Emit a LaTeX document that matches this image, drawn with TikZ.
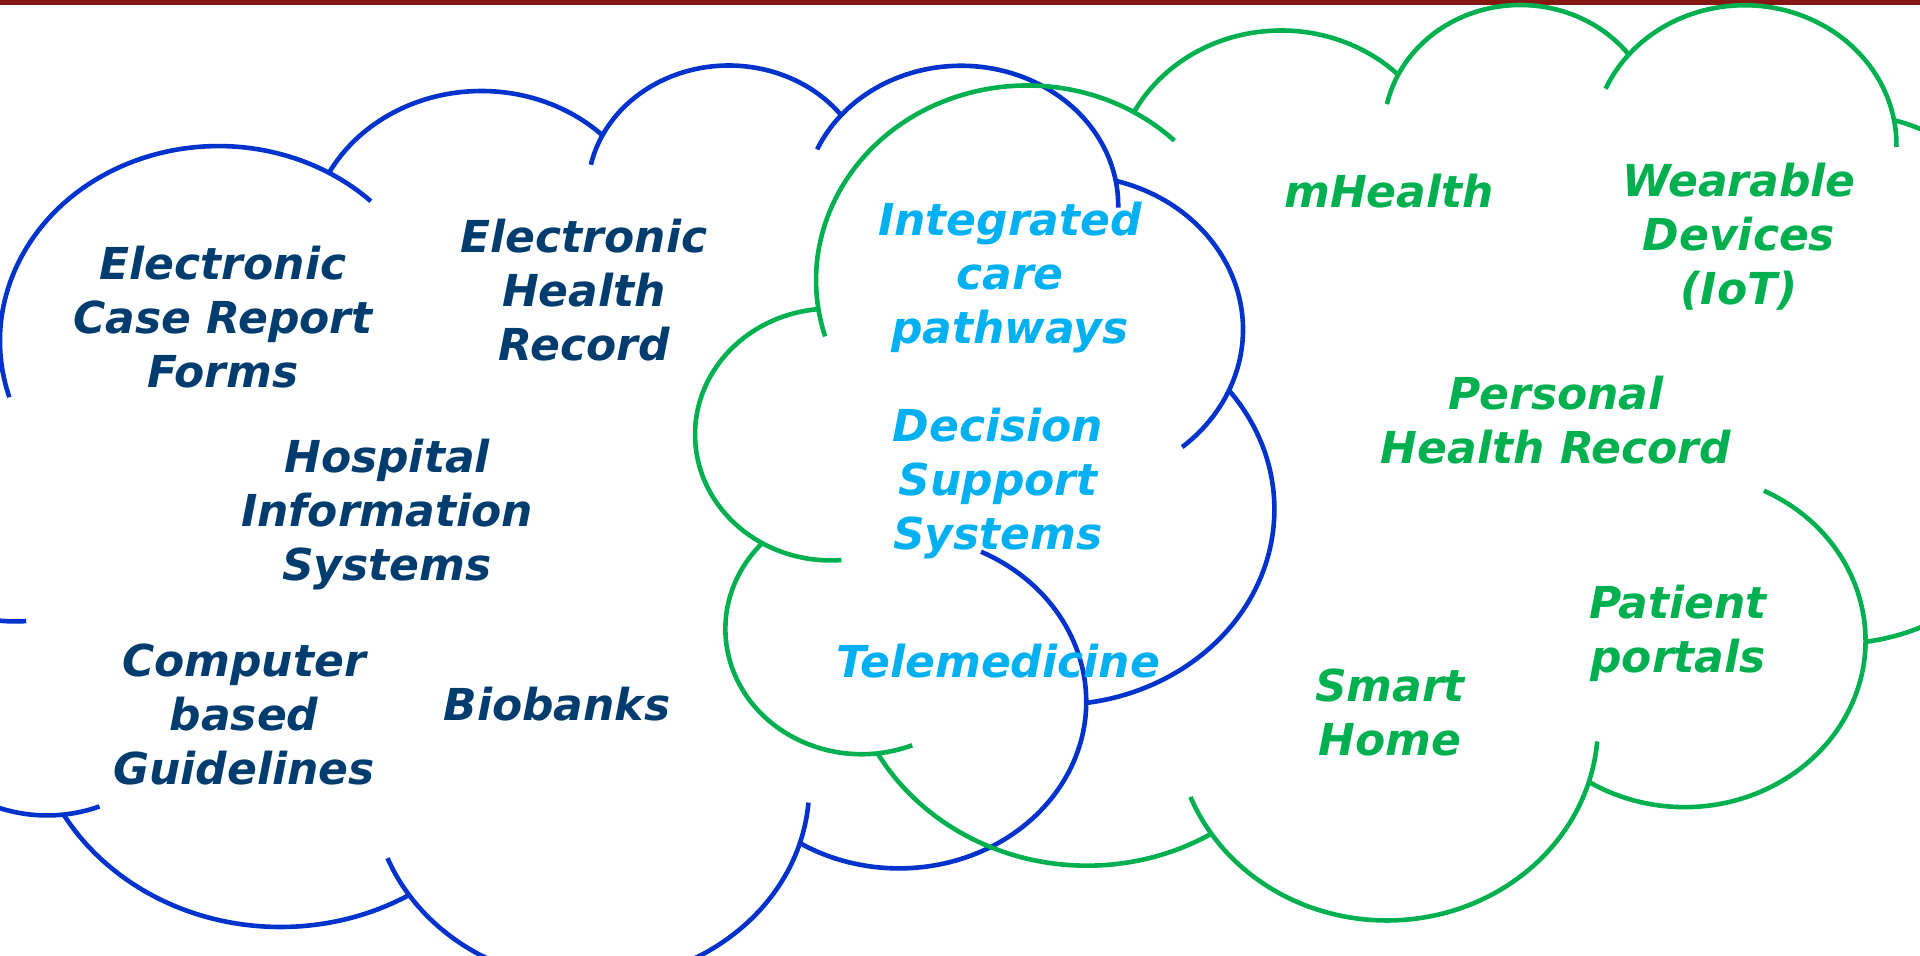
\documentclass[tikz,border=0pt]{standalone}
\usepackage{fontspec}
\setmainfont{DejaVu Sans}
\definecolor{barred}{RGB}{132,23,19}
\definecolor{cloudblue}{RGB}{0,51,204}
\definecolor{cloudgreen}{RGB}{0,176,80}
\definecolor{navytext}{RGB}{0,61,110}
\definecolor{skytext}{RGB}{0,176,240}
\definecolor{greentext}{RGB}{0,176,80}
\newcommand\cloudarc[6]{\draw (#1,#2) ++(#5:#3 and #4) arc[start angle=#5, end angle=#6, x radius=#3, y radius=#4];}
\newcommand\cloudshape{%
  \cloudarc{105.91}{131.31}{67.53}{91.90}{163.19}{314.21}
  \cloudarc{187.15}{86.11}{53.33}{72.67}{-152.02}{-45.44}
  \cloudarc{263.63}{60.87}{43.65}{59.45}{-167.72}{-37.33}
  \cloudarc{335.38}{67.49}{48.57}{65.95}{-156.29}{0.83}
  \cloudarc{369.17}{125.98}{53.33}{72.73}{-74.77}{49.64}
  \cloudarc{364.46}{210.82}{67.75}{92.20}{-37.54}{81.86}
  \cloudarc{316.20}{301.46}{57.85}{78.67}{-64.02}{121.98}
  \cloudarc{220.94}{341.49}{67.52}{92.15}{4.74}{158.47}
  \cloudarc{125.03}{302.34}{77.20}{105.43}{58.98}{150.20}
  \cloudarc{52.96}{295.96}{43.60}{59.18}{68.23}{223.13}
  \cloudarc{43.11}{204.19}{43.45}{59.45}{85.55}{264.11}
}
\begin{document}
\begin{tikzpicture}[x=0.5pt,y=-0.5pt,
  lbl/.style={align=center,font=\fontsize{22}{27}\selectfont\bfseries\itshape,inner sep=0pt},
  navy/.style={lbl,text=navytext},
  sky/.style={lbl,text=skytext},
  grn/.style={lbl,text=greentext},
  bluecloud/.style={draw=cloudblue,line width=2.3pt},
  greencloud/.style={draw=cloudgreen,line width=2.3pt}]
\clip (0,0) rectangle (1920,955);
\fill[white] (0,0) rectangle (1920,955);
\fill[barred] (0,0) rectangle (1920,5);
% blue cloud
\begin{scope}[shift={(-124.2,62.5)},x=1.61795pt,y=-1.060pt,bluecloud]
\cloudshape
\end{scope}
% green cloud
\begin{scope}[shift={(696.1,2)},x=1.56315pt,y=-1.059pt,greencloud]
\cloudshape
\end{scope}
% labels
\node[navy] (ecrf) at (223,317) {Electronic\\Case Report\\Forms};
\node[navy] (ehr) at (584,290) {Electronic\\Health\\Record};
\node[navy] (his) at (387,515) {Hospital\\Information\\Systems};
\node[navy] (cbg) at (244,714) {Computer\\based\\Guidelines};
\node[navy] (bio) at (557,704) {Biobanks};
\node[sky] (icp) at (1010,278) {Integrated\\care\\pathways};
\node[sky] (dss) at (998,484) {Decision\\Support\\Systems};
\node[sky] (tele) at (998,661) {Telemedicine};
\node[grn] (mh) at (1389,191) {mHealth};
\node[grn] (wd) at (1739,237) {Wearable\\Devices\\(IoT)};
\node[grn] (phr) at (1556,420) {Personal\\Health Record};
\node[grn] (pp) at (1678,633) {Patient\\portals};
\node[grn] (sh) at (1390,712) {Smart\\Home};
\end{tikzpicture}
\end{document}
